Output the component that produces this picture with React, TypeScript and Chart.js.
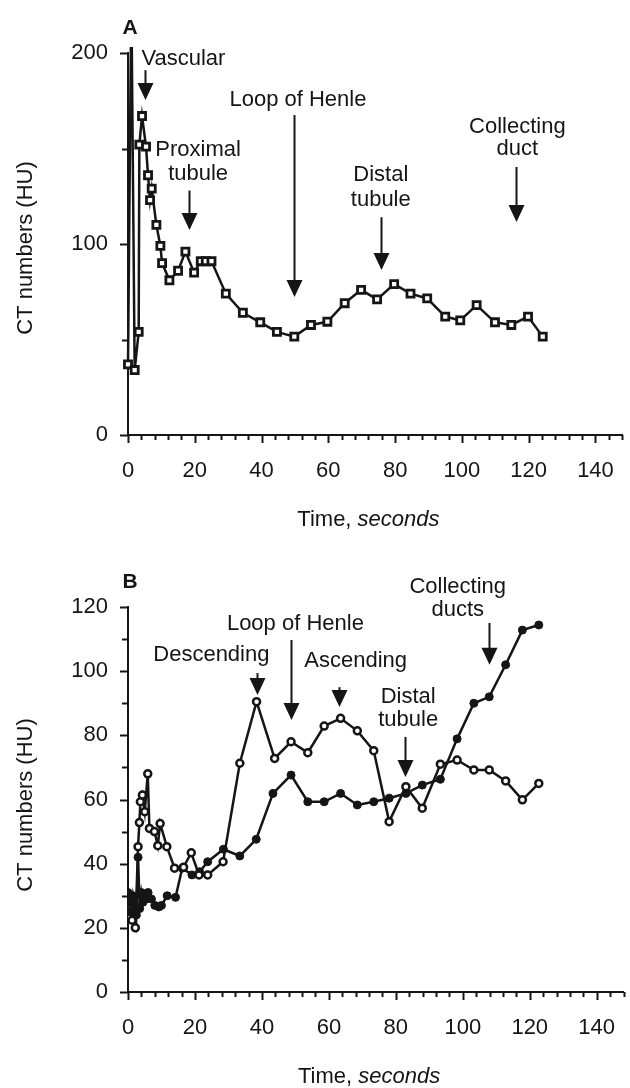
import React, { useEffect, useRef } from "react";
import { Chart, registerables } from "chart.js";

Chart.register(...registerables);

const FONT = '"Liberation Sans", Arial, Helvetica, sans-serif';
const INK = "#151515";

// ---------- Panel A data (time in s, CT numbers in HU) ----------
const timeA = [0, 1, 2, 3.2, 3.4, 4.2, 5.4, 6.0, 6.6, 7.1, 8.5, 9.7, 10.2, 12.4, 15.0, 17.2, 19.8, 21.8, 23.3, 25.0, 29.3, 34.4, 39.6, 44.6, 49.8, 54.8, 59.7, 64.9, 69.8, 74.6, 79.7, 84.6, 89.6, 95.0, 99.5, 104.4, 109.9, 114.8, 119.8, 124.2];
const huA = [37, 230, 34, 54, 152, 167, 151, 136, 123, 129, 110, 99, 90, 81, 86, 96, 85, 91, 91, 91, 74, 64, 59, 54, 51.5, 57.6, 59.3, 69, 76, 71, 79, 74, 71.5, 62, 60, 68, 59, 57.6, 62, 51.5];

// ---------- Panel B data ----------
const timeBOpen = [0, 1.2, 2.2, 3.0, 3.4, 3.7, 4.3, 5.0, 5.9, 6.4, 7.9, 8.9, 9.6, 11.6, 13.9, 16.6, 18.9, 21.2, 23.8, 28.4, 33.4, 38.4, 43.8, 48.7, 53.7, 58.6, 63.5, 68.5, 73.4, 78.0, 83.0, 87.9, 93.3, 98.3, 103.3, 107.9, 112.8, 117.8, 122.7];
const huBOpen = [23, 22.4, 20, 45.3, 52.8, 59.3, 61.4, 56.2, 68, 51, 50, 45.6, 52.5, 45.3, 38.6, 38.9, 43.4, 36.5, 36.5, 40.6, 71.3, 90.5, 72.8, 78.0, 74.6, 82.9, 85.3, 81.4, 75.2, 53.1, 64.0, 57.3, 71.0, 72.3, 69.2, 69.2, 65.8, 59.9, 65.0];

const timeBFilled = [0, 0.5, 1.0, 1.5, 2.0, 2.5, 3.0, 3.5, 4.0, 4.5, 5.0, 5.5, 6.0, 7.0, 8.0, 9.2, 10.0, 11.7, 14.2, 16.2, 19.1, 21.4, 23.8, 28.5, 33.4, 38.3, 43.3, 48.7, 53.7, 58.6, 63.5, 68.5, 73.4, 78.0, 83.0, 87.9, 93.3, 98.3, 103.3, 107.9, 112.8, 117.8, 122.7];
const huBFilled = [31, 28, 25, 30, 27, 24, 42, 26, 31, 28, 30, 29, 31, 29, 27, 26.5, 27, 30, 29.5, 38.6, 36.5, 37.5, 40.6, 44.5, 42.4, 47.6, 61.9, 67.6, 59.3, 59.3, 61.9, 58.3, 59.3, 60.4, 61.9, 64.5, 66.3, 78.9, 90, 92, 102, 112.8, 114.4];

// ---------- Axis settings ----------
const xMax = 148;
const xTickStep = 20;
const xMinorStep = 4;
const yMaxA = 200;
const yStepA = 100;
const yMinorA = 50;
const yMaxB = 120;
const yStepB = 20;
const yMinorB = 10;

// ---------- Annotations (data coordinates) ----------
type Note = { lines: string[]; x: number; y: number[]; ax: number; from: number; to: number };
const notesA: Note[] = [
  { lines: ["Vascular"], x: 16.6, y: [197], ax: 5.0, from: 191, to: 175.4 },
  { lines: ["Proximal", "tubule"], x: 21, y: [149.2, 136.6], ax: 18.3, from: 128, to: 107.3 },
  { lines: ["Loop of Henle"], x: 50.9, y: [175.4], ax: 49.7, from: 167.5, to: 72.3 },
  { lines: ["Distal", "tubule"], x: 75.7, y: [136, 123], ax: 75.7, from: 114, to: 86.4 },
  { lines: ["Collecting", "duct"], x: 116.6, y: [161.3, 149.7], ax: 116.3, from: 140.3, to: 111.5 },
];
const notesB: Note[] = [
  { lines: ["Descending"], x: 24.9, y: [105], ax: 38.5, from: 99.4, to: 92.6 },
  { lines: ["Loop of Henle"], x: 50, y: [114.7], ax: 48.8, from: 109.7, to: 84.8 },
  { lines: ["Ascending"], x: 68, y: [103.2], ax: 63, from: 95, to: 88.8 },
  { lines: ["Distal", "tubule"], x: 83.7, y: [92, 84.8], ax: 82.8, from: 79.5, to: 67 },
  { lines: ["Collecting", "ducts"], x: 98.5, y: [126.2, 119.1], ax: 107.7, from: 115, to: 102 },
];

const W = 630;
const H = 544;

type PanelCfg = {
  letter: string;
  notes: Note[];
  yMinor: number;
  yMajor: number;
  yTitleY: number;
};

function panelPlugin(cfg: PanelCfg) {
  return {
    id: "panel" + cfg.letter,
    afterDraw(chart: any) {
      const { ctx, chartArea } = chart;
      const xs = chart.scales.x;
      const ys = chart.scales.y;
      ctx.save();
      ctx.strokeStyle = INK;
      ctx.lineWidth = 2;
      // x tick marks
      for (let i = 0; i * xMinorStep <= xs.max + 1e-9; i++) {
        const v = i * xMinorStep;
        const px = Math.round(xs.getPixelForValue(v)) + 0.5;
        const len = v % xTickStep === 0 ? 8 : 5;
        ctx.beginPath();
        ctx.moveTo(px, chartArea.bottom);
        ctx.lineTo(px, chartArea.bottom + len);
        ctx.stroke();
      }
      // y tick marks
      for (let i = 0; i * cfg.yMinor <= ys.max + 1e-9; i++) {
        const v = i * cfg.yMinor;
        const py = Math.round(ys.getPixelForValue(v)) + 0.5;
        const len = v % cfg.yMajor === 0 ? 8 : 6;
        ctx.beginPath();
        ctx.moveTo(chartArea.left, py);
        ctx.lineTo(chartArea.left - len, py);
        ctx.stroke();
      }
      // annotations
      ctx.fillStyle = INK;
      ctx.font = `22px ${FONT}`;
      ctx.textAlign = "center";
      ctx.textBaseline = "middle";
      for (const n of cfg.notes) {
        n.lines.forEach((s, i) => {
          ctx.fillText(s, xs.getPixelForValue(n.x), ys.getPixelForValue(n.y[i]));
        });
        const ax = Math.round(xs.getPixelForValue(n.ax)) + 0.5;
        const y0 = ys.getPixelForValue(n.from);
        const y1 = ys.getPixelForValue(n.to);
        const headH = Math.min(17, y1 - y0);
        const headW = 8;
        ctx.lineWidth = 2;
        ctx.beginPath();
        ctx.moveTo(ax, y0);
        ctx.lineTo(ax, y1 - headH + 1);
        ctx.stroke();
        ctx.beginPath();
        ctx.moveTo(ax - headW, y1 - headH);
        ctx.lineTo(ax + headW, y1 - headH);
        ctx.lineTo(ax, y1);
        ctx.closePath();
        ctx.fill();
      }
      // panel letter
      ctx.font = `bold 21px ${FONT}`;
      ctx.textAlign = "center";
      ctx.fillText(cfg.letter, chartArea.left + 2, chartArea.top - 25);
      // y title
      ctx.font = `22px ${FONT}`;
      ctx.save();
      ctx.translate(26, cfg.yTitleY);
      ctx.rotate(-Math.PI / 2);
      ctx.textAlign = "center";
      ctx.fillText("CT numbers (HU)", 0, 0);
      ctx.restore();
      // x title with italic part
      const part1 = "Time, ";
      const part2 = "seconds";
      ctx.font = `22px ${FONT}`;
      const w1 = ctx.measureText(part1).width;
      ctx.font = `italic 22px ${FONT}`;
      const w2 = ctx.measureText(part2).width;
      const cx = xs.getPixelForValue(72);
      const ty = chartArea.bottom + 85;
      const left = cx - (w1 + w2) / 2;
      ctx.textAlign = "left";
      ctx.font = `22px ${FONT}`;
      ctx.fillText(part1, left, ty);
      ctx.font = `italic 22px ${FONT}`;
      ctx.fillText(part2, left + w1, ty);
      ctx.restore();
    },
  };
}

function baseOptions(yMax: number, yStep: number, top: number, xHeight: number) {
  const tickFont = { family: FONT, size: 22 };
  return {
    animation: false,
    responsive: false,
    devicePixelRatio: 1,
    layout: { padding: { left: 0, right: 2, top, bottom: 0 } },
    plugins: { legend: { display: false }, tooltip: { enabled: false }, title: { display: false } },
    scales: {
      x: {
        type: "linear",
        min: 0,
        max: xMax,
        afterFit: (s: any) => {
          s.height = xHeight;
          s.paddingLeft = 0;
          s.paddingRight = 0;
        },
        grid: { display: false, drawTicks: false },
        border: { display: true, color: INK, width: 2 },
        ticks: { stepSize: xTickStep, includeBounds: false, autoSkip: false, maxRotation: 0, padding: 23, color: INK, font: tickFont },
      },
      y: {
        type: "linear",
        min: 0,
        max: yMax,
        afterFit: (s: any) => {
          s.width = 128;
          s.paddingTop = 0;
          s.paddingBottom = 0;
        },
        grid: { display: false, drawTicks: false },
        border: { display: true, color: INK, width: 2 },
        ticks: { stepSize: yStep, includeBounds: false, autoSkip: false, padding: 20, color: INK, font: tickFont },
      },
    },
  };
}

const toPoints = (xs: number[], ys: number[]) => xs.map((x, i) => ({ x, y: ys[i] }));

export default function App() {
  const refA = useRef<HTMLCanvasElement | null>(null);
  const refB = useRef<HTMLCanvasElement | null>(null);

  useEffect(() => {
    if (!refA.current || !refB.current) return;
    const chartA = new Chart(refA.current, {
      type: "line",
      data: {
        datasets: [
          {
            data: toPoints(timeA, huA),
            borderColor: INK,
            borderWidth: 2.5,
            tension: 0,
            fill: false,
            clip: { left: 10, top: 6, right: 10, bottom: 10 },
            pointStyle: "rect",
            pointRadius: 5,
            pointBorderWidth: 2.8,
            pointBorderColor: INK,
            pointBackgroundColor: "#ffffff",
          },
        ],
      },
      options: baseOptions(yMaxA, yStepA, 53, H - 435) as any,
      plugins: [panelPlugin({ letter: "A", notes: notesA, yMinor: yMinorA, yMajor: yStepA, yTitleY: 248 })],
    } as any);

    const chartB = new Chart(refB.current, {
      type: "line",
      data: {
        datasets: [
          {
            data: toPoints(timeBOpen, huBOpen),
            borderColor: INK,
            borderWidth: 2.5,
            tension: 0,
            fill: false,
            pointStyle: "circle",
            pointRadius: 3.5,
            pointBorderWidth: 2.5,
            pointBorderColor: INK,
            pointBackgroundColor: "#ffffff",
          },
          {
            data: toPoints(timeBFilled, huBFilled),
            borderColor: INK,
            borderWidth: 2.5,
            tension: 0,
            fill: false,
            pointStyle: "circle",
            pointRadius: 4,
            pointBorderWidth: 1,
            pointBorderColor: INK,
            pointBackgroundColor: INK,
          },
        ],
      },
      options: baseOptions(yMaxB, yStepB, 63, H - 448) as any,
      plugins: [panelPlugin({ letter: "B", notes: notesB, yMinor: yMinorB, yMajor: yStepB, yTitleY: 261 })],
    } as any);

    return () => {
      chartA.destroy();
      chartB.destroy();
    };
  }, []);

  return (
    <div style={{ position: "absolute", left: 0, top: 0, width: W, height: 2 * H, background: "#ffffff" }}>
      <canvas ref={refA} width={W} height={H} style={{ display: "block", width: W, height: H }} />
      <canvas ref={refB} width={W} height={H} style={{ display: "block", width: W, height: H }} />
    </div>
  );
}
